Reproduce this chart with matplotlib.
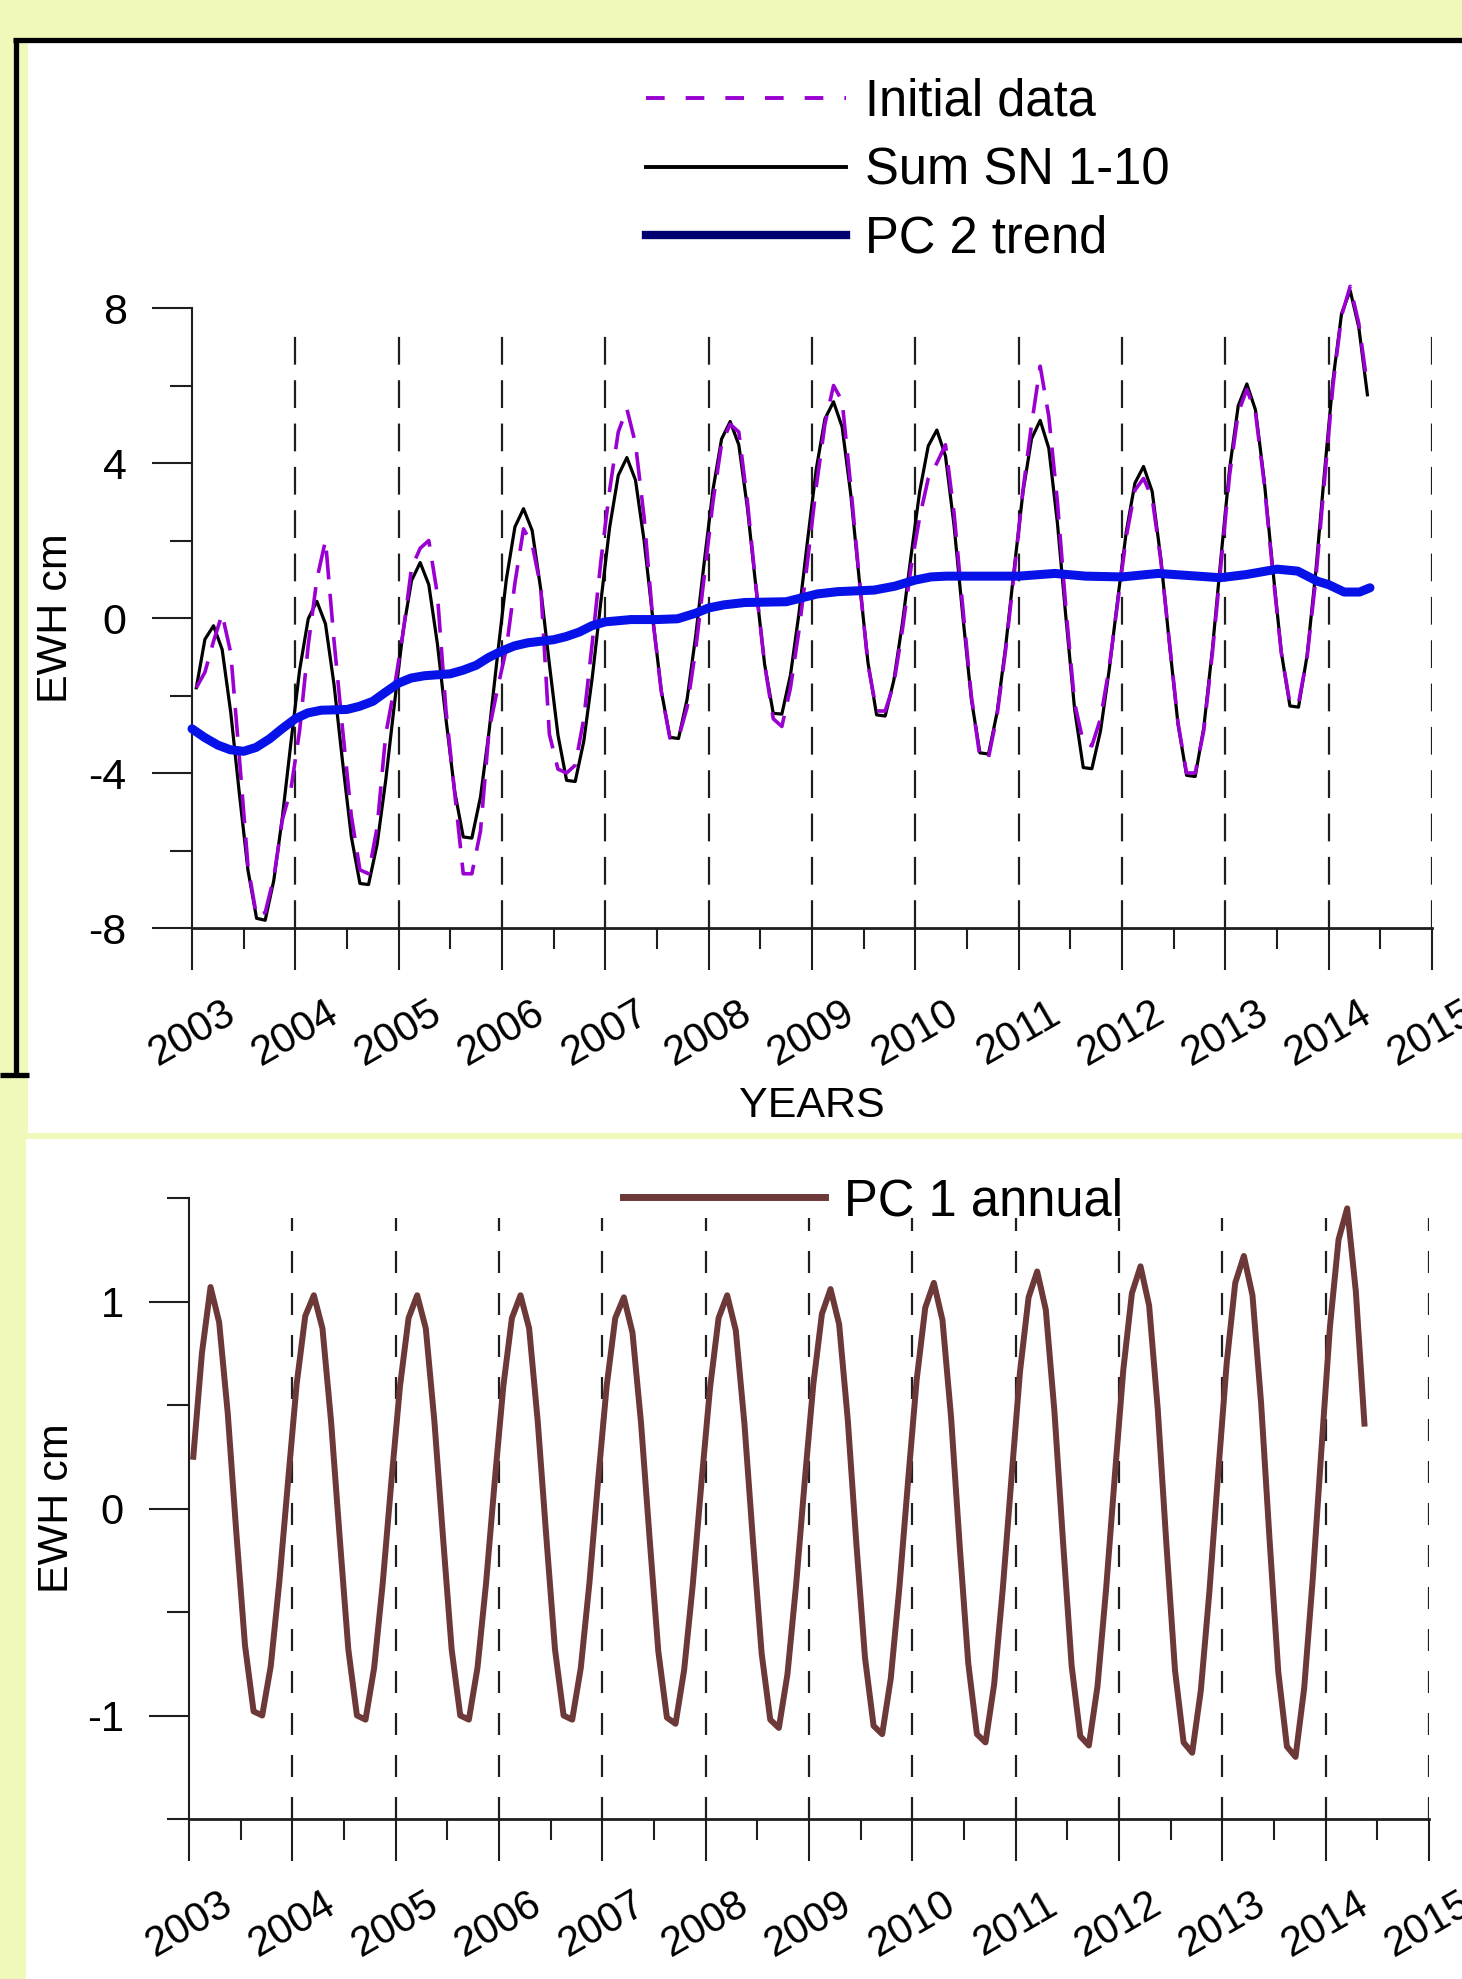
import numpy as np
import matplotlib
matplotlib.use('Agg')
import matplotlib.pyplot as plt
from matplotlib.lines import Line2D
from matplotlib.patches import Rectangle

plt.rcParams['font.family'] = ['Liberation Sans', 'DejaVu Sans']
plt.rcParams['axes.unicode_minus'] = False

# ---------------- data ----------------
start_year = 2003
n_months = 137  # Jan 2003 .. May 2014, mid-month samples

# Sum SN 1-10 (black), monthly
sum_sn = (
    [-1.80, -0.55, -0.20, -0.81, -2.44, -4.53, -6.51, -7.75, -7.80, -6.77, -5.13, -3.19] +  # 2003
    [-1.34, -0.02, 0.43, -0.15, -1.73, -3.74, -5.64, -6.85, -6.88, -5.84, -4.18, -2.23] +   # 2004
    [-0.36, 0.97, 1.43, 0.86, -0.67, -2.62, -4.47, -5.65, -5.68, -4.62, -2.92, -0.92] +     # 2005
    [0.99, 2.35, 2.82, 2.26, 0.74, -1.19, -3.02, -4.19, -4.22, -3.18, -1.50, 0.46] +        # 2006
    [2.34, 3.68, 4.14, 3.56, 2.00, 0.01, -1.88, -3.08, -3.11, -2.09, -0.45, 1.47] +         # 2007
    [3.31, 4.62, 5.07, 4.47, 2.84, 0.77, -1.20, -2.46, -2.48, -1.47, 0.14, 2.03] +          # 2008
    [3.85, 5.14, 5.58, 4.93, 3.19, 0.96, -1.15, -2.50, -2.53, -1.61, -0.13, 1.60] +         # 2009
    [3.26, 4.44, 4.85, 4.18, 2.38, 0.08, -2.09, -3.48, -3.51, -2.43, -0.71, 1.31] +         # 2010
    [3.25, 4.63, 5.10, 4.38, 2.45, -0.02, -2.36, -3.86, -3.89, -2.92, -1.36, 0.48] +        # 2011
    [2.23, 3.48, 3.91, 3.27, 1.55, -0.65, -2.73, -4.06, -4.09, -2.82, -0.80, 1.58] +        # 2012
    [3.86, 5.48, 6.04, 5.37, 3.58, 1.29, -0.88, -2.27, -2.30, -0.96, 1.19, 3.72] +          # 2013
    [6.14, 7.86, 8.45, 7.50, 5.76]                                                          # 2014
)

# Initial data (magenta dashed), monthly
initial = (
    [-1.80, -1.40, -0.60, 0.10, -0.90, -3.60, -6.40, -7.70, -7.60, -6.70, -5.20, -4.40] +
    [-2.90, -0.70, 1.00, 2.00, -0.60, -2.90, -5.10, -6.50, -6.60, -5.40, -3.00, -1.80] +
    [-0.40, 1.30, 1.80, 2.00, 0.60, -2.40, -4.50, -6.60, -6.60, -5.50, -2.90, -1.80] +
    [-0.80, 0.90, 2.30, 1.90, 0.80, -3.00, -3.90, -4.00, -3.80, -2.60, -0.60, 1.50] +
    [3.30, 4.80, 5.40, 4.50, 2.60, 0.00, -1.90, -3.10, -3.10, -2.30, -0.80, 1.10] +
    [3.00, 4.50, 5.00, 4.80, 3.00, 0.80, -1.20, -2.60, -2.80, -1.80, -0.30, 1.50] +
    [3.40, 5.00, 6.00, 5.60, 3.40, 1.00, -1.20, -2.40, -2.40, -1.70, -0.30, 1.30] +
    [2.60, 3.60, 4.00, 4.47, 2.70, 0.30, -2.00, -3.60, -3.60, -2.50, -0.80, 1.20] +
    [3.30, 5.00, 6.50, 5.20, 3.00, 0.20, -2.20, -3.20, -3.30, -2.60, -1.30, 0.40] +
    [2.10, 3.30, 3.60, 3.10, 1.50, -0.60, -2.70, -4.00, -4.00, -2.90, -0.90, 1.40] +
    [3.70, 5.30, 5.90, 5.30, 3.50, 1.20, -0.90, -2.20, -2.20, -1.00, 1.00, 3.50] +
    [6.00, 7.80, 8.56, 7.60, 5.99]
)

# PC 2 trend (blue)
trend_t = [2003.0, 2003.12, 2003.25, 2003.37, 2003.5, 2003.62, 2003.75, 2003.87,
           2004.0, 2004.12, 2004.25, 2004.5, 2004.62, 2004.75, 2004.87,
           2005.0, 2005.12, 2005.25, 2005.5, 2005.62, 2005.75, 2005.87,
           2006.0, 2006.12, 2006.25, 2006.5, 2006.62, 2006.75, 2006.87,
           2007.0, 2007.25, 2007.5, 2007.7, 2007.87,
           2008.0, 2008.15, 2008.35, 2008.75, 2008.9,
           2009.05, 2009.25, 2009.6, 2009.8,
           2010.0, 2010.15, 2010.3, 2011.0, 2011.35, 2011.65,
           2012.0, 2012.35, 2012.95, 2013.2, 2013.5, 2013.7, 2013.89,
           2014.0, 2014.15, 2014.3, 2014.4]
trend = [-2.86, -3.08, -3.28, -3.40, -3.44, -3.34, -3.12, -2.86,
         -2.60, -2.45, -2.38, -2.36, -2.28, -2.15, -1.92,
         -1.68, -1.55, -1.49, -1.44, -1.35, -1.22, -1.02,
         -0.85, -0.72, -0.64, -0.56, -0.48, -0.36, -0.20,
         -0.10, -0.04, -0.04, -0.02, 0.12,
         0.26, 0.34, 0.40, 0.42, 0.52,
         0.62, 0.68, 0.72, 0.82,
         0.98, 1.06, 1.08, 1.08, 1.15, 1.08,
         1.06, 1.15, 1.04, 1.12, 1.26, 1.21, 0.95,
         0.86, 0.67, 0.67, 0.78]

# PC 1 annual (brown), monthly
pc1_annual = (
    [0.25, 0.75, 1.07, 0.90, 0.46, -0.12, -0.66, -0.98, -1.00, -0.76, -0.35, 0.13] +
    [0.60, 0.93, 1.03, 0.87, 0.42, -0.14, -0.68, -1.00, -1.02, -0.77, -0.36, 0.13] +
    [0.59, 0.92, 1.03, 0.87, 0.42, -0.14, -0.68, -1.00, -1.02, -0.77, -0.36, 0.13] +
    [0.59, 0.92, 1.03, 0.87, 0.42, -0.14, -0.68, -1.00, -1.02, -0.77, -0.36, 0.13] +
    [0.59, 0.92, 1.02, 0.85, 0.41, -0.15, -0.69, -1.01, -1.04, -0.78, -0.37, 0.12] +
    [0.58, 0.92, 1.03, 0.86, 0.41, -0.16, -0.70, -1.02, -1.06, -0.80, -0.37, 0.13] +
    [0.60, 0.94, 1.06, 0.89, 0.43, -0.17, -0.72, -1.05, -1.09, -0.82, -0.38, 0.13] +
    [0.62, 0.97, 1.09, 0.91, 0.44, -0.18, -0.75, -1.09, -1.13, -0.85, -0.39, 0.14] +
    [0.66, 1.02, 1.145, 0.96, 0.47, -0.16, -0.76, -1.10, -1.145, -0.86, -0.39, 0.15] +
    [0.67, 1.04, 1.17, 0.98, 0.48, -0.17, -0.78, -1.13, -1.18, -0.88, -0.40, 0.16] +
    [0.70, 1.09, 1.22, 1.03, 0.51, -0.16, -0.79, -1.15, -1.20, -0.87, -0.34, 0.28] +
    [0.88, 1.30, 1.45, 1.05, 0.41]
)

years = list(range(2003, 2016))
year_labels = [str(y) for y in years]
top_yticks = [-8, -4, 0, 4, 8]
top_yticklabels = ['-8', '-4', '0', '4', '8']
bot_yticks = [-1, 0, 1]
bot_yticklabels = ['-1', '0', '1']

t = start_year + (np.arange(n_months) + 0.5) / 12.0

# ---------------- styling ----------------
W, H = 1462, 1979
YELLOW = '#F1F9BA'
MAG = '#9A00D2'
BLUE = '#0612E8'
NAVY = '#00006E'
BROWN = '#6C3838'
AXC = '#1E1E1E'


def fx(x):
    return x / W


def fy(y):
    return 1 - y / H


fig = plt.figure(figsize=(W / 100, H / 100), dpi=100, facecolor=YELLOW)

# panel backgrounds
fig.add_artist(Rectangle((fx(28), fy(1133)), fx(W) - fx(28), fy(43) - fy(1133),
                         transform=fig.transFigure, facecolor='white', edgecolor='none', zorder=-10))
fig.add_artist(Rectangle((fx(26), 0), 1 - fx(26), fy(1139),
                         transform=fig.transFigure, facecolor='white', edgecolor='none', zorder=-10))
for (xs, ys) in [((13, W), (40, 40)), ((15.5, 15.5), (38, 1077)), ((0, 29), (1075, 1075))]:
    fig.add_artist(Line2D([fx(xs[0]), fx(xs[1])], [fy(ys[0]), fy(ys[1])], transform=fig.transFigure,
                          color='black', lw=3.8, solid_capstyle='butt', zorder=-9))

ax1 = fig.add_axes([fx(192), fy(928), 1240 / W, 620 / H])
ax2 = fig.add_axes([fx(189), fy(1819), 1240 / W, 621 / H])


def style_axes(ax, yticks, yticklabels, yminor, ylim, grid_top, dash, ylabsize):
    ax.set_facecolor('none')
    ax.set_xlim(2003, 2015)
    ax.set_ylim(*ylim)
    for s in ['top', 'right']:
        ax.spines[s].set_visible(False)
    ax.spines['left'].set_color(AXC)
    ax.spines['left'].set_linewidth(1.5)
    ax.spines['bottom'].set_color(AXC)
    ax.spines['bottom'].set_linewidth(2.0)
    ax.set_yticks(yticks, labels=yticklabels)
    ax.set_yticks(yminor, minor=True)
    ax.set_xticks(years, labels=year_labels, rotation=30, ha='center', va='center')
    ax.set_xticks([y + 0.5 for y in years[:-1]], minor=True)
    ax.tick_params(axis='y', which='major', length=29, width=1.5, color=AXC, pad=18, labelsize=ylabsize)
    ax.tick_params(axis='y', which='minor', length=16, width=1.5, color=AXC)
    ax.tick_params(axis='x', which='major', length=30, width=1.5, color=AXC, pad=46, labelsize=30)
    ax.tick_params(axis='x', which='minor', length=15, width=1.5, color=AXC)
    for yr in years[1:]:
        ax.axvline(yr, ymin=0, ymax=grid_top, color=AXC, lw=1.6, ls=(0, dash), zorder=1)


style_axes(ax1, top_yticks, top_yticklabels, [-6, -2, 2, 6], (-8, 8), 0.9645, (12.5, 7.0), 31)
style_axes(ax2, bot_yticks, bot_yticklabels, [-1.5, -0.5, 0.5, 1.5], (-1.5, 1.5), 0.968, (9.9, 9.0), 30)

# top panel lines
ax1.plot(t, sum_sn, color='black', lw=2.3, zorder=3, clip_on=False)
ax1.plot(t, initial, color=MAG, lw=2.6, ls=(0, (8, 4)), zorder=4, clip_on=False)
ax1.plot(trend_t, trend, color=BLUE, lw=6.5, zorder=5, solid_capstyle='round',
         solid_joinstyle='round', clip_on=False)

ax1.set_ylabel('EWH cm', fontsize=31, va='center')
ax1.yaxis.set_label_coords((56 - 192) / 1240, 0.5)
ax1.set_xlabel('YEARS', fontsize=31, va='center')
ax1.xaxis.set_label_coords(0.5, (928 - 1106) / 620)

handles = [Line2D([], [], color=MAG, lw=2.8, ls=(0, (4.8, 5.4))),
           Line2D([], [], color='black', lw=2.8),
           Line2D([], [], color=NAVY, lw=6)]
ax1.legend(handles, ['Initial data', 'Sum SN 1-10', 'PC 2 trend'], loc='upper left',
           bbox_to_anchor=(fx(646), fy(78)), bbox_transform=fig.transFigure, frameon=False,
           fontsize=36.5, handlelength=3.95, handletextpad=0.37, labelspacing=0.38,
           borderpad=0, borderaxespad=0)

# bottom panel
ax2.plot(t, pc1_annual, color=BROWN, lw=4.3, zorder=3, clip_on=False)
ax2.set_ylabel('EWH cm', fontsize=31, va='center')
ax2.yaxis.set_label_coords((57 - 189) / 1240, 0.5)
ax2.legend([Line2D([], [], color=BROWN, lw=5)], ['PC 1 annual'], loc='upper left',
           bbox_to_anchor=(fx(623), fy(1177)), bbox_transform=fig.transFigure, frameon=False,
           fontsize=36.5, handlelength=3.98, handletextpad=0.37,
           borderpad=0, borderaxespad=0)

fig.savefig('out.png', dpi=100, facecolor=YELLOW)
